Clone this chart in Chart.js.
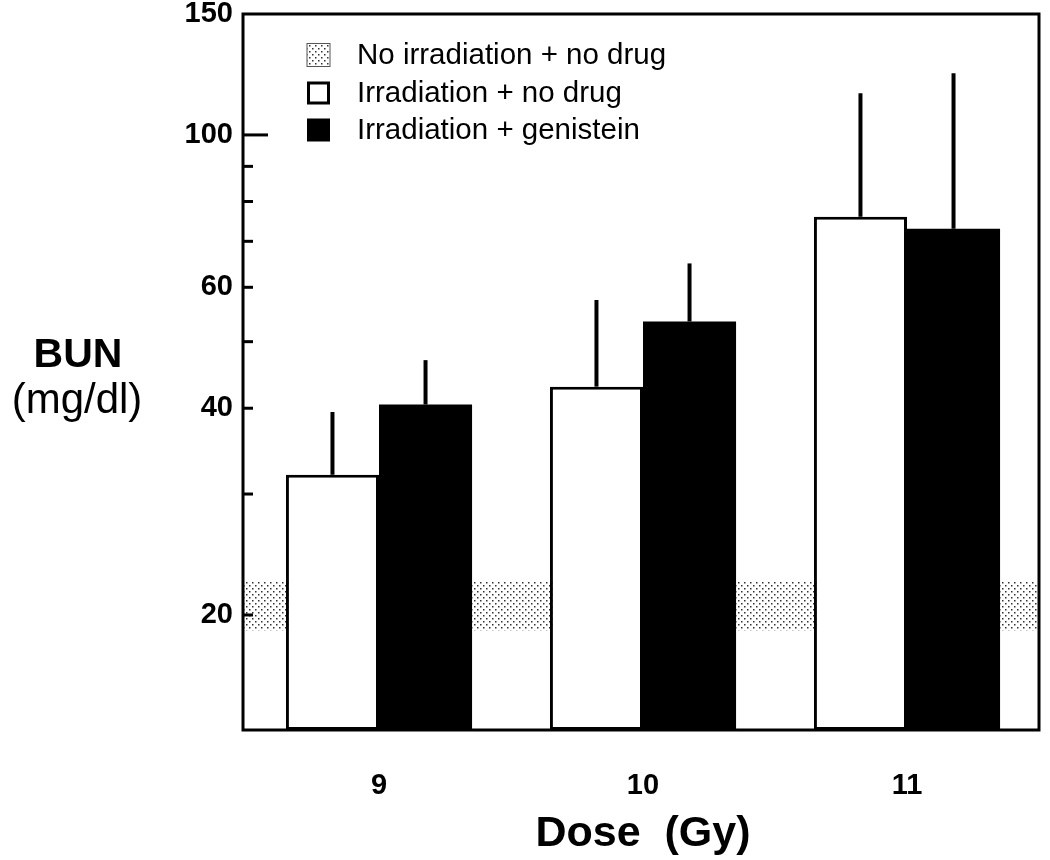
<!DOCTYPE html>
<html>
<head>
<meta charset="utf-8">
<script src="https://cdn.jsdelivr.net/npm/chart.js@4.4.1/dist/chart.umd.min.js"></script>
<style>
  html, body { margin: 0; padding: 0; background: #fff; }
  #wrap { width: 1050px; height: 860px; }
</style>
</head>
<body>
<div id="wrap"><canvas id="bun-chart"></canvas></div>
<script>
// dose groups (Gy)
const doses = ['9', '10', '11'];
// BUN mean and SD, irradiation + no drug
const irrMean = [32, 43, 76];
const irrSd = [7.5, 14.5, 39];
// BUN mean and SD, irradiation + genistein
const genMean = [40.5, 53.5, 73];
const genSd = [6.5, 11.5, 50];
// no irradiation + no drug (normal band)
const ctrlMean = 20.7;
const ctrlSd = 1.7;
// y axis ticks
const yTicks = [20, 30, 40, 50, 60, 70, 80, 90, 100, 150];
const yLabeled = [20, 40, 60, 100, 150];
const legendLabels = ['No irradiation + no drug', 'Irradiation + no drug', 'Irradiation + genistein'];

const FONT = '"Liberation Sans", Arial, sans-serif';
const INSET = 4; // frame sits a little left of the bar area

function dotPattern(ctx) {
    const c = document.createElement('canvas');
    c.width = 6;
    c.height = 6;
    const g = c.getContext('2d');
    g.fillStyle = '#fff';
    g.fillRect(0, 0, 6, 6);
    g.fillStyle = '#333';
    g.fillRect(0, 0, 1.5, 1.5);
    g.fillRect(3, 3, 1.5, 1.5);
    return ctx.createPattern(c, 'repeat');
}

const extras = {
    id: 'bunExtras',
    beforeDatasetsDraw(chart) {
        const { ctx, chartArea: a, scales: { y } } = chart;
        const top = y.getPixelForValue(ctrlMean + ctrlSd);
        const bot = y.getPixelForValue(ctrlMean - ctrlSd);
        ctx.save();
        ctx.fillStyle = dotPattern(ctx);
        ctx.fillRect(a.left - INSET, top, a.right - a.left + INSET, bot - top);
        ctx.restore();
    },
    afterDatasetsDraw(chart) {
        const { ctx, chartArea: a, scales: { y } } = chart;
        const sds = [irrSd, genSd];
        const left = a.left - INSET;
        ctx.save();
        ctx.strokeStyle = '#000';
        ctx.lineWidth = 4;
        chart.data.datasets.forEach((ds, i) => {
            chart.getDatasetMeta(i).data.forEach((bar, j) => {
                const yTop = y.getPixelForValue(ds.data[j] + sds[i][j]);
                ctx.beginPath();
                ctx.moveTo(bar.x, bar.y);
                ctx.lineTo(bar.x, yTop);
                ctx.stroke();
            });
        });
        // frame
        ctx.lineWidth = 3;
        ctx.strokeRect(left, a.top, a.right - left, a.bottom - a.top);
        // inward tick marks
        yTicks.forEach(v => {
            if (v === 150) return;
            const py = y.getPixelForValue(v);
            const len = v === 100 ? 25 : 10;
            ctx.beginPath();
            ctx.moveTo(left, py);
            ctx.lineTo(left + len, py);
            ctx.stroke();
        });
        ctx.restore();
    },
    afterDraw(chart) {
        const { ctx, chartArea: a } = chart;
        ctx.save();
        ctx.fillStyle = '#000';
        // legend
        const rows = [55, 93, 130];
        const sw = 23;
        const sx = 307;
        ctx.font = '29.5px ' + FONT;
        ctx.textBaseline = 'middle';
        ctx.textAlign = 'left';
        rows.forEach((ry, i) => {
            if (i === 0) {
                ctx.fillStyle = dotPattern(ctx);
                ctx.fillRect(sx, ry - sw / 2, sw, sw);
                ctx.lineWidth = 1;
                ctx.strokeStyle = '#555';
                ctx.strokeRect(sx, ry - sw / 2, sw, sw);
            } else if (i === 1) {
                ctx.fillStyle = '#fff';
                ctx.fillRect(sx, ry - sw / 2, sw, sw);
                ctx.lineWidth = 3;
                ctx.strokeStyle = '#000';
                ctx.strokeRect(sx + 1.5, ry - sw / 2 + 1.5, sw - 3, sw - 3);
            } else {
                ctx.fillStyle = '#000';
                ctx.fillRect(sx, ry - sw / 2, sw, sw);
            }
            ctx.fillStyle = '#000';
            ctx.fillText(legendLabels[i], 357, ry + 1);
        });
        // axis titles
        ctx.textAlign = 'center';
        ctx.textBaseline = 'alphabetic';
        ctx.font = 'bold 41px ' + FONT;
        ctx.fillText('BUN', 78, 367);
        ctx.font = '42px ' + FONT;
        ctx.fillText('(mg/dl)', 77, 413);
        ctx.font = 'bold 43px ' + FONT;
        ctx.fillText('Dose  (Gy)', (a.left + a.right) / 2, 846);
        ctx.restore();
    }
};

const ctx = document.getElementById('bun-chart');
const chart = new Chart(ctx, {
    type: 'bar',
    data: {
        labels: doses,
        datasets: [{
            label: legendLabels[1],
            data: irrMean,
            backgroundColor: '#fff',
            borderColor: '#000',
            borderWidth: 3,
            borderSkipped: false,
            barPercentage: 1,
            categoryPercentage: 0.705,
        },
        {
            label: legendLabels[2],
            data: genMean,
            backgroundColor: '#000',
            borderColor: '#000',
            borderWidth: 0,
            barPercentage: 1,
            categoryPercentage: 0.705,
        }],
    },
    options: {
        responsive: true,
        maintainAspectRatio: false,
        animation: false,
        layout: { padding: { left: INSET, right: 11, top: 14, bottom: 0 } },
        plugins: {
            legend: { display: false },
            tooltip: { enabled: false },
        },
        scales: {
            x: {
                grid: { display: false },
                border: { display: false },
                afterFit: (s) => { s.height = 130; s.paddingLeft = 0; s.paddingRight = 0; },
                ticks: {
                    color: '#000',
                    padding: 31,
                    font: { family: '"Liberation Sans Narrow", ' + FONT, size: 29, weight: 'bold' },
                },
            },
            y: {
                type: 'logarithmic',
                min: 13.6,
                max: 150,
                afterBuildTicks: (s) => { s.ticks = yTicks.map(v => ({ value: v })); },
                afterFit: (s) => { s.width = 243; s.paddingTop = 0; s.paddingBottom = 0; },
                grid: { display: false },
                border: { display: false },
                ticks: {
                    autoSkip: false,
                    color: '#000',
                    padding: 2 + INSET,
                    callback: (v) => yLabeled.includes(v) ? String(v) : '',
                    font: { family: FONT, size: 29, weight: 'bold', lineHeight: 1 },
                },
            },
        },
    },
    plugins: [extras],
});
</script>
</body>
</html>
